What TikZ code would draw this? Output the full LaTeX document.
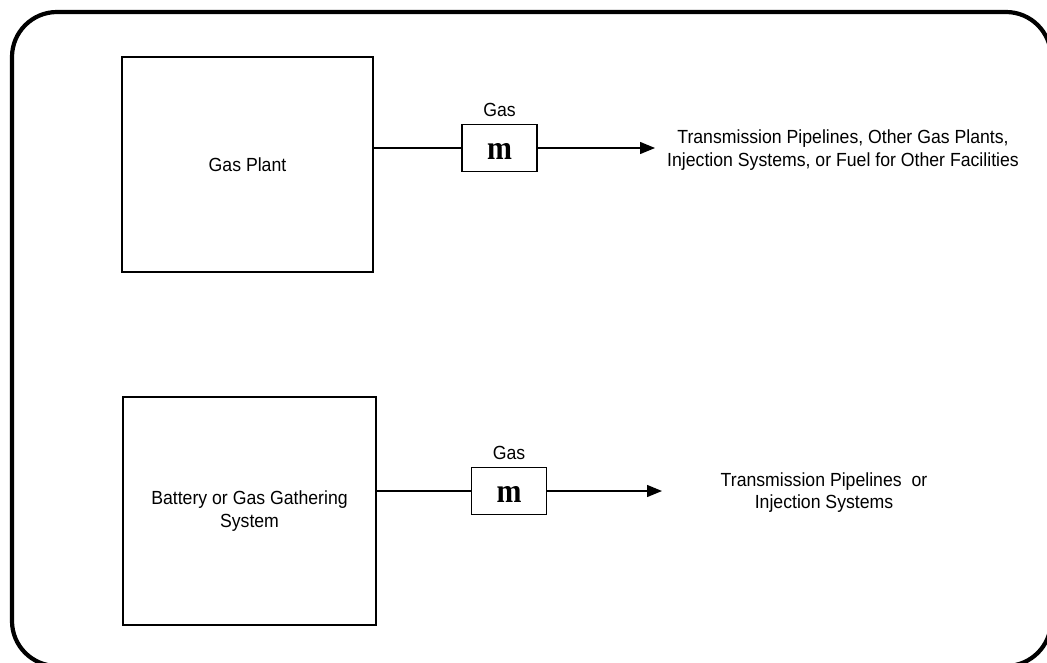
\documentclass[tikz,border=0pt]{standalone}
\usepackage{fontspec}
\setmainfont[FakeStretch=0.93]{Liberation Sans}
\newfontfamily\meterfont[FakeStretch=0.88]{Liberation Serif}
\usetikzlibrary{arrows.meta}
\begin{document}
\begin{tikzpicture}[x=1pt,y=-1pt,
  lbl/.style={font=\fontsize{19}{22.4}\selectfont, inner sep=0pt, align=center},
  unit/.style={draw, line width=1.4pt, inner sep=0pt, font=\fontsize{19}{22.4}\selectfont, align=center},
  meter/.style={draw, line width=1.4pt, minimum width=75pt, minimum height=47pt, inner sep=0pt,
    font=\meterfont\bfseries\fontsize{34}{34}\selectfont, text height=22.4pt, text depth=0pt},
  flow/.style={line width=1.3pt},
  flowarrow/.style={line width=1.3pt, -{Triangle[length=15pt,width=12pt]}}]
\useasboundingbox (0,0) rectangle (1047,662);
\clip (0,0) rectangle (1047,662);
\draw[line width=4.2pt, rounded corners=45pt] (12,12) rectangle (1051,666);

% upper row
\node[unit, minimum width=251pt, minimum height=215pt] (plant) at (247.5,164.5) {Gas Plant};
\node[meter] (m1) at (499.5,148) {m};
\node[lbl, anchor=base] (g1) at ([yshift=7.5pt]m1.north) {Gas};
\node[lbl] (d1) at (843,150) {Transmission Pipelines, Other Gas Plants,\\Injection Systems, or Fuel for Other Facilities};
\draw[flow] (plant.east |- m1) -- (m1.west);
\draw[flowarrow, shorten >=12pt] (m1.east) -- (m1.east -| d1.west);

% lower row
\node[unit, minimum width=253pt, minimum height=228pt] (batt) at (249.5,511) {Battery or Gas Gathering\\System};
\node[meter] (m2) at (509,491) {m};
\node[lbl, anchor=base] (g2) at ([yshift=7.5pt]m2.north) {Gas};
\node[lbl] (d2) at (824,492.5) {Transmission Pipelines~ or\\Injection Systems};
\draw[flow] (batt.east |- m2) -- (m2.west);
\draw[flowarrow] (m2.east) -- (662,491);
\end{tikzpicture}
\end{document}
